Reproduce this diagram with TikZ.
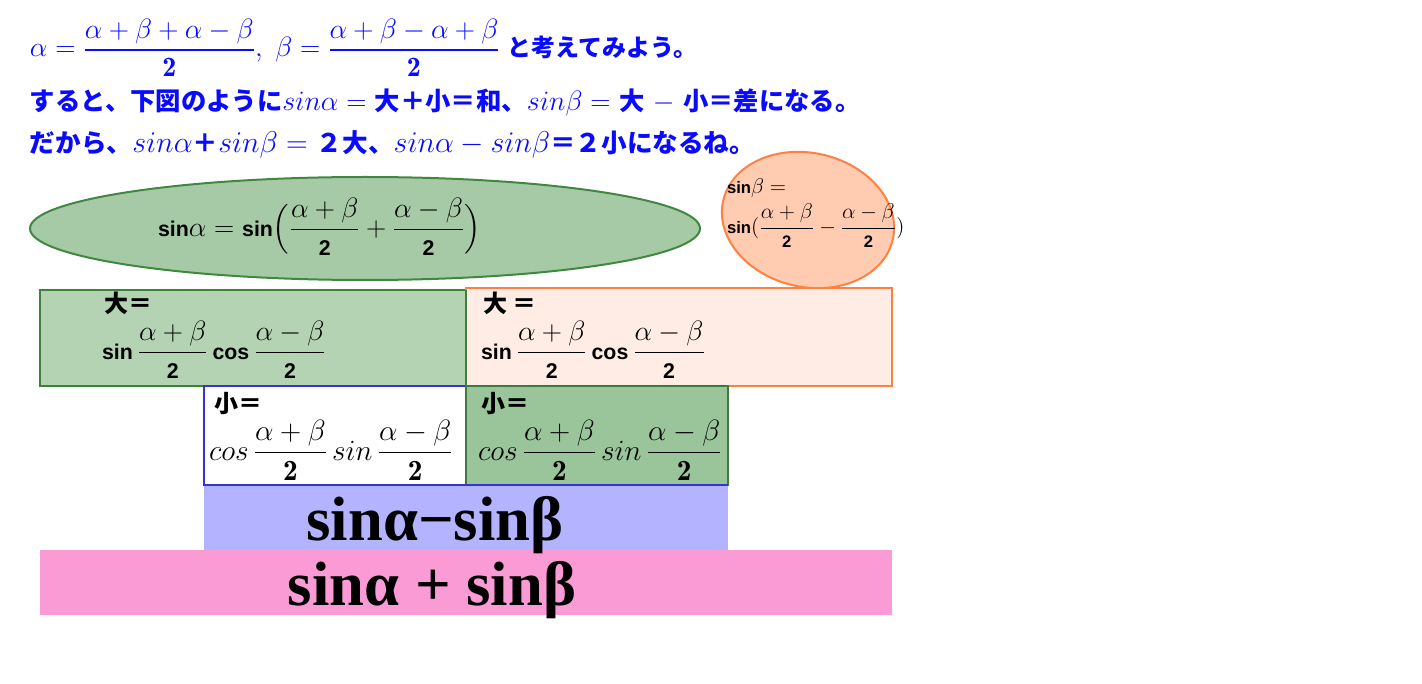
\RequirePackage{fix-cm}
\documentclass[tikz,border=0pt]{standalone}
\usepackage{amsmath}
\usepackage{fontspec}
\newfontfamily\cjk{Noto Sans CJK JP}
\newfontfamily\sfb{Liberation Sans}
\newfontfamily\bigser{Liberation Serif}
\definecolor{txtblue}{RGB}{10,10,255}
\definecolor{ellgreenF}{RGB}{167,202,166}
\definecolor{ellgreenD}{RGB}{64,136,64}
\definecolor{recgreenF}{RGB}{179,211,179}
\definecolor{recgreenD}{RGB}{60,130,60}
\definecolor{recgreen2F}{RGB}{154,196,154}
\definecolor{recgreen2D}{RGB}{64,120,64}
\definecolor{orangeD}{RGB}{255,128,64}
\definecolor{orangeF}{RGB}{255,236,228}
\definecolor{ellorangeF}{RGB}{255,204,178}
\definecolor{rectblue}{RGB}{51,51,221}
\definecolor{bandblue}{RGB}{179,179,255}
\definecolor{bandpink}{RGB}{250,155,214}
% sans bold text inside math, at 16pt
\newcommand\sft[1]{\text{\fontsize{16}{19}\selectfont\sfb\bfseries #1}}
% smaller sans for the orange ellipse
\newcommand\sfs[1]{\text{\fontsize{12.5}{15}\selectfont\sfb\bfseries #1}}
\newcommand\jp[1]{{\cjk\bfseries\fontsize{18}{22}\selectfont #1}}
\newcommand\jpb[1]{{\cjk\bfseries\fontsize{19}{23}\selectfont #1}}
\newcommand\jpc[1]{{\cjk\bfseries\fontsize{19.2}{23}\selectfont #1}}
\tikzset{
  txt/.style={inner sep=0pt, outer sep=0pt},
  bluetxt/.style={txt, text=txtblue, anchor=base west, font=\fontsize{21}{25}\selectfont},
  boxtxt/.style={txt, anchor=west, font=\fontsize{21}{25}\selectfont},
  lowboxtxt/.style={txt, anchor=west, font=\fontsize{22}{26}\selectfont},
  ovaltxt/.style={txt, anchor=west, font=\fontsize{16}{19}\selectfont},
  bandtxt/.style={txt, anchor=base, font=\bigser\bfseries\fontsize{47}{50}\selectfont},
  edge/.style={line width=1.5pt}
}
\begin{document}
\begin{tikzpicture}[x=0.75pt,y=-0.75pt]
\useasboundingbox (0,0) rectangle (1422,684);
% top text
\node[bluetxt] (l1) at (30,57) {$\alpha=\dfrac{\alpha+\beta+\alpha-\beta}{\mathbf{2}},\;\beta=\dfrac{\alpha+\beta-\alpha+\beta}{\mathbf{2}}$\;\jp{と考えてみよう。}};
\node[bluetxt] (l2) at (30,111) {\jpb{すると、下図のように}$sin\alpha=$ \jpb{大＋小＝和、}$sin\beta=$ \jpb{大} $-$ \jpb{小＝差になる。}};
\node[bluetxt, font=\fontsize{22.5}{26}\selectfont] (l3) at (30,153) {\jpc{だから、}$sin\alpha$\jpc{＋}$sin\beta=$ \jpc{２大、}$sin\alpha-sin\beta$\jpc{＝２小になるね。}};
% ellipses
\draw[edge, draw=ellgreenD, fill=ellgreenF] (365,228.5) ellipse [x radius=335, y radius=51.5];
\node[boxtxt] (e1) at (158,227) {$\sft{sin}\alpha=\sft{sin}\Bigl(\dfrac{\alpha+\beta}{\sft{2}}+\dfrac{\alpha-\beta}{\sft{2}}\Bigr)$};
\draw[edge, draw=orangeD, fill=ellorangeF, rotate around={-13:(808,220)}] (808,220) ellipse [x radius=87, y radius=67];
\node[ovaltxt] (e2a) at (727,188) {$\sfs{sin}\beta=$};
\node[ovaltxt] (e2b) at (727,226) {$\sfs{sin}(\dfrac{\alpha+\beta}{\sfs{2}}-\dfrac{\alpha-\beta}{\sfs{2}})$};
% rectangles
\draw[edge, draw=recgreenD, fill=recgreenF] (40,290) rectangle (466,386);
\draw[edge, draw=orangeD, fill=orangeF] (466,288) rectangle (892,386);
\draw[edge, draw=recgreenD] (466,290) -- (466,386);
\draw[edge, draw=rectblue, fill=white] (204,386) rectangle (466,485);
\draw[edge, draw=recgreen2D, fill=recgreen2F] (466,386) rectangle (728,485);
\fill[bandblue] (204,486) rectangle (728,550);
\fill[bandpink] (40,550) rectangle (892,615);
\draw[edge, draw=rectblue] (204,485) -- (728,485);
% box texts
\node[txt, anchor=west] (b1a) at (104,303) {\jp{大＝}};
\node[boxtxt] (b1b) at (102,350) {$\sft{sin}\,\dfrac{\alpha+\beta}{\sft{2}}\,\sft{cos}\,\dfrac{\alpha-\beta}{\sft{2}}$};
\node[txt, anchor=west] (b2a) at (483,303) {\jp{大 ＝}};
\node[boxtxt] (b2b) at (481,350) {$\sft{sin}\,\dfrac{\alpha+\beta}{\sft{2}}\,\sft{cos}\,\dfrac{\alpha-\beta}{\sft{2}}$};
\node[txt, anchor=west] (b3a) at (214,404) {\jp{小＝}};
\node[lowboxtxt] (b3b) at (209,450) {$cos\,\dfrac{\alpha+\beta}{\mathbf{2}}\,sin\,\dfrac{\alpha-\beta}{\mathbf{2}}$};
\node[txt, anchor=west] (b4a) at (481,404) {\jp{小＝}};
\node[lowboxtxt] (b4b) at (478,450) {$cos\,\dfrac{\alpha+\beta}{\mathbf{2}}\,sin\,\dfrac{\alpha-\beta}{\mathbf{2}}$};
% band texts
\node[bandtxt] (s1) at (435,540) {sinα−sinβ};
\node[bandtxt] (s2) at (432,605) {sinα + sinβ};
\end{tikzpicture}
\end{document}
